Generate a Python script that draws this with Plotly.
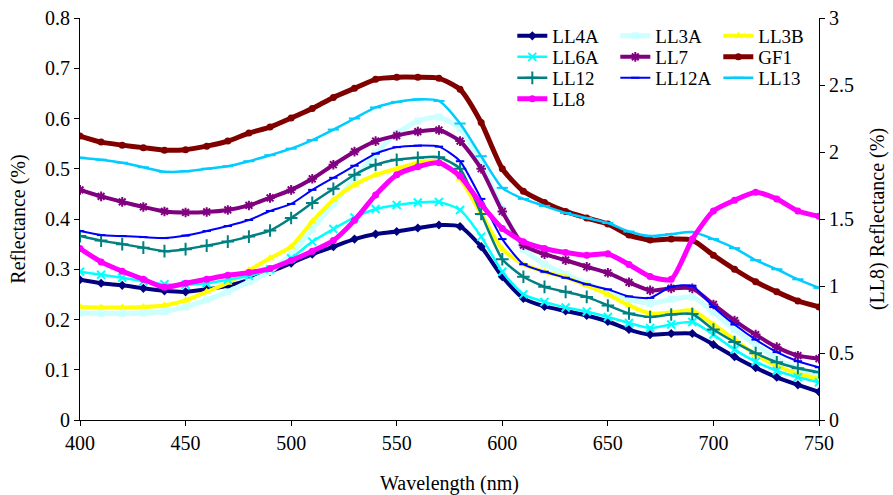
import plotly.graph_objects as go

wavelength = list(range(400, 751, 10))

LL4A = [0.279, 0.272, 0.268, 0.262, 0.257, 0.255, 0.260, 0.267, 0.279, 0.295, 0.312, 0.330,
        0.345, 0.360, 0.370, 0.375, 0.382, 0.388, 0.385, 0.345, 0.285, 0.242, 0.226, 0.217,
        0.208, 0.196, 0.180, 0.170, 0.172, 0.172, 0.150, 0.126, 0.104, 0.085, 0.070, 0.056]
LL3A = [0.213, 0.212, 0.212, 0.213, 0.216, 0.225, 0.239, 0.255, 0.275, 0.295, 0.330, 0.380,
        0.430, 0.480, 0.530, 0.570, 0.595, 0.603, 0.580, 0.510, 0.420, 0.340, 0.310, 0.290,
        0.272, 0.255, 0.240, 0.232, 0.240, 0.245, 0.215, 0.180, 0.150, 0.122, 0.102, 0.088]
LL3B = [0.225, 0.224, 0.224, 0.225, 0.228, 0.238, 0.255, 0.273, 0.298, 0.322, 0.345, 0.395,
        0.438, 0.468, 0.488, 0.500, 0.512, 0.515, 0.480, 0.410, 0.340, 0.310, 0.295, 0.284,
        0.268, 0.250, 0.228, 0.212, 0.214, 0.218, 0.190, 0.160, 0.130, 0.108, 0.092, 0.082]
LL6A = [0.295, 0.289, 0.283, 0.276, 0.270, 0.269, 0.272, 0.279, 0.287, 0.300, 0.322, 0.355,
        0.380, 0.403, 0.420, 0.428, 0.433, 0.434, 0.418, 0.365, 0.295, 0.250, 0.235, 0.224,
        0.216, 0.205, 0.193, 0.183, 0.190, 0.195, 0.170, 0.140, 0.116, 0.098, 0.085, 0.075]
LL7 = [0.458, 0.445, 0.434, 0.424, 0.415, 0.413, 0.414, 0.418, 0.427, 0.442, 0.458, 0.480,
       0.508, 0.534, 0.555, 0.566, 0.574, 0.577, 0.555, 0.500, 0.415, 0.348, 0.330, 0.318,
       0.305, 0.293, 0.274, 0.258, 0.262, 0.262, 0.230, 0.198, 0.170, 0.145, 0.128, 0.122]
GF1 = [0.565, 0.553, 0.547, 0.542, 0.537, 0.538, 0.545, 0.555, 0.571, 0.583, 0.601, 0.620,
       0.642, 0.660, 0.678, 0.682, 0.682, 0.680, 0.658, 0.592, 0.500, 0.455, 0.433, 0.415,
       0.402, 0.390, 0.368, 0.358, 0.360, 0.358, 0.328, 0.300, 0.275, 0.255, 0.237, 0.225]
LL12 = [0.366, 0.357, 0.350, 0.343, 0.336, 0.340, 0.347, 0.355, 0.365, 0.377, 0.402, 0.432,
        0.460, 0.488, 0.508, 0.518, 0.522, 0.523, 0.500, 0.410, 0.320, 0.285, 0.265, 0.255,
        0.245, 0.228, 0.212, 0.205, 0.210, 0.211, 0.180, 0.155, 0.133, 0.115, 0.103, 0.095]
LL12A = [0.376, 0.368, 0.366, 0.364, 0.362, 0.367, 0.376, 0.386, 0.398, 0.416, 0.430, 0.458,
         0.482, 0.506, 0.530, 0.543, 0.546, 0.544, 0.515, 0.440, 0.360, 0.310, 0.295, 0.283,
         0.270, 0.260, 0.246, 0.243, 0.265, 0.267, 0.225, 0.190, 0.160, 0.135, 0.117, 0.105]
LL13 = [0.522, 0.518, 0.512, 0.503, 0.494, 0.495, 0.500, 0.505, 0.515, 0.527, 0.540, 0.557,
        0.578, 0.600, 0.622, 0.633, 0.638, 0.635, 0.590, 0.525, 0.462, 0.440, 0.426, 0.412,
        0.402, 0.392, 0.375, 0.366, 0.370, 0.374, 0.360, 0.342, 0.318, 0.300, 0.280, 0.263]
LL8 = [1.28, 1.18, 1.11, 1.05, 0.99, 1.02, 1.05, 1.08, 1.10, 1.13, 1.19, 1.26,
       1.34, 1.49, 1.68, 1.83, 1.89, 1.92, 1.82, 1.61, 1.43, 1.33, 1.28, 1.25,
       1.23, 1.24, 1.16, 1.07, 1.05, 1.35, 1.56, 1.64, 1.70, 1.65, 1.56, 1.52]

x_ticks = [400, 450, 500, 550, 600, 650, 700, 750]

FONT = "serif"

series = [
    ("LL4A", LL4A, "#000080", "diamond", 7, 4, "y", "legend"),
    ("LL3A", LL3A, "#CCFFFF", "square", 7, 5, "y", "legend"),
    ("LL3B", LL3B, "#FFFF00", "triangle-up", 8, 4, "y", "legend"),
    ("LL6A", LL6A, "#00FFFF", "x-thin-open", 8, 2.5, "y", "legend2"),
    ("LL7", LL7, "#800080", "asterisk-open", 8, 4, "y", "legend2"),
    ("GF1", GF1, "#800000", "circle", 7, 5, "y", "legend2"),
    ("LL12", LL12, "#008080", "cross-thin-open", 9, 2.5, "y", "legend3"),
    ("LL12A", LL12A, "#0000FF", "line-ew-open", 6, 2, "y", "legend3"),
    ("LL13", LL13, "#00CCFF", "line-ew-open", 8, 2.5, "y", "legend3"),
    ("LL8", LL8, "#FF00FF", "circle", 7, 5, "y2", "legend4"),
]

fig = go.Figure()
for name, data, color, symbol, size, lw, axis, leg in series:
    open_sym = symbol.endswith("open")
    fig.add_trace(go.Scatter(
        x=wavelength, y=data, name=name, mode="lines+markers",
        yaxis=axis, legend=leg,
        line=dict(color=color, width=lw, shape="spline", smoothing=0.6),
        marker=dict(symbol=symbol, size=size, color=color,
                    line=dict(color=color, width=2 if open_sym else 0)),
    ))

axis_common = dict(
    showline=True, linecolor="black", linewidth=1,
    ticks="outside", ticklen=5, tickcolor="black",
    showgrid=False, zeroline=False, automargin=False,
    tickfont=dict(family=FONT, size=20, color="black"),
)


def row_legend(ypx):
    return dict(
        orientation="h", entrywidth=58, entrywidthmode="pixels",
        bgcolor="rgba(0,0,0,0)", borderwidth=0,
        font=dict(family=FONT, size=19, color="black"),
        x=0.585, xanchor="left",
        y=(420 - ypx) / 402, yanchor="middle",
        itemwidth=30,
    )


fig.update_layout(
    width=893, height=495,
    margin=dict(l=80, r=74, t=18, b=75),
    paper_bgcolor="white", plot_bgcolor="white",
    font=dict(family=FONT, size=20, color="black"),
    showlegend=True,
    xaxis=dict(range=[400, 750], tickvals=x_ticks,
               title=dict(text="Wavelength (nm)", font=dict(family=FONT, size=20), standoff=22),
               **axis_common),
    yaxis=dict(range=[0, 0.8], dtick=0.1, tickformat=".1~f",
               title=dict(text="Reflectance (%)", font=dict(family=FONT, size=20), standoff=14),
               **axis_common),
    yaxis2=dict(range=[0, 3], dtick=0.5, overlaying="y", side="right", tickformat="~g",
                title=dict(text="(LL8) Reflectance (%)", font=dict(family=FONT, size=20), standoff=16),
                **axis_common),
    legend=row_legend(36),
    legend2=row_legend(57),
    legend3=row_legend(78),
    legend4=row_legend(99),
)

fig.write_html("out.html")
